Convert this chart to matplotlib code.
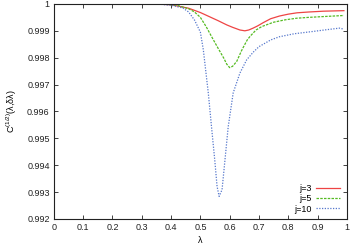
# C^(1/2) versus lambda for j=3, 5, 10, gnuplot look
import matplotlib
matplotlib.use('Agg')
import matplotlib.pyplot as plt
from matplotlib.ticker import FuncFormatter, MultipleLocator

plt.rcParams['font.family'] = ['Liberation Sans', 'DejaVu Sans']
plt.rcParams['mathtext.fontset'] = 'custom'
plt.rcParams['mathtext.rm'] = 'Liberation Sans'
plt.rcParams['mathtext.it'] = 'Liberation Sans:italic'

# values
lam3 = [0, 0.30, 0.36, 0.40, 0.46, 0.50, 0.53, 0.56, 0.59, 0.61, 0.635, 0.652, 0.665, 0.68,
        0.695, 0.714, 0.74, 0.77, 0.80, 0.83, 0.87, 0.92, 0.99]
c3 = [1, 1, 0.99999, 0.99997, 0.99984, 0.99968, 0.99953, 0.99938, 0.99922, 0.99913, 0.99903,
      0.99900, 0.99903, 0.99910, 0.99918, 0.99930, 0.99945, 0.99955, 0.99962, 0.99967,
      0.99970, 0.99973, 0.99975]

lam5 = [0, 0.30, 0.38, 0.42, 0.46, 0.48, 0.50, 0.52, 0.54, 0.56, 0.58, 0.59, 0.60, 0.61,
        0.624, 0.64, 0.65, 0.66, 0.67, 0.69, 0.71, 0.75, 0.79, 0.83, 0.87, 0.92, 0.99]
c5 = [1, 1, 0.99999, 0.99995, 0.99982, 0.99970, 0.99950, 0.99915, 0.99875, 0.99836,
      0.99798, 0.99776, 0.99763, 0.99768, 0.99786, 0.99825, 0.99846, 0.99866, 0.99880,
      0.99903, 0.99916, 0.99932, 0.99941, 0.99947, 0.99950, 0.99953, 0.99957]

lam10 = [0, 0.30, 0.36, 0.40, 0.44, 0.46, 0.48, 0.50, 0.51, 0.527, 0.538, 0.549, 0.557,
         0.564, 0.574, 0.584, 0.595, 0.612, 0.635, 0.658, 0.68, 0.70, 0.74, 0.77, 0.82,
         0.88, 0.93, 0.975, 0.99]
c10 = [1, 1, 0.99999, 0.99995, 0.99985, 0.99970, 0.99940, 0.99895, 0.99830, 0.99669,
       0.99543, 0.99420, 0.99321, 0.99284, 0.99309, 0.99420, 0.99543, 0.99669, 0.99743,
       0.99792, 0.99820, 0.99841, 0.99866, 0.99878, 0.99889, 0.99897, 0.99904, 0.99910,
       0.99906]

fig = plt.figure(figsize=(3.5, 2.46), dpi=100)
ax = fig.add_axes([0.154, 0.110, 0.837, 0.874])

ax.plot(lam3, c3, color='#ee4444', lw=0.9, ls='-', label='j=3')
ax.plot(lam5, c5, color='#55bb22', lw=0.9, ls=(0, (2, 1)), label='j=5')
ax.plot(lam10, c10, color='#5577cc', lw=0.9, ls=(0, (1, 1.2)), label='j=10')

ax.set_xlim(0, 1)
ax.set_ylim(0.992, 1)
ax.xaxis.set_major_locator(MultipleLocator(0.1))
ax.yaxis.set_major_locator(MultipleLocator(0.001))
fmt = FuncFormatter(lambda v, p: '%g' % round(v, 4))
ax.xaxis.set_major_formatter(fmt)
ax.yaxis.set_major_formatter(fmt)

ax.tick_params(direction='in', top=True, right=True, length=3, width=0.6,
               labelsize=6.5, pad=3, colors='#222222')
plt.setp(ax.spines.values(), linewidth=0.8, color='#222222')

ax.set_xlabel('λ', fontsize=6.5, labelpad=3)
ax.set_ylabel(r'C$^{(1/2)}$(λ,δλ)', fontsize=6.5, labelpad=6)

ax.legend(loc='lower right', bbox_to_anchor=(0.995, 0.0), frameon=False, markerfirst=False,
          fontsize=6.5, handlelength=2.7, labelspacing=0.15, handletextpad=0.5,
          borderaxespad=0.2)

fig.savefig('out.png', dpi=100)
